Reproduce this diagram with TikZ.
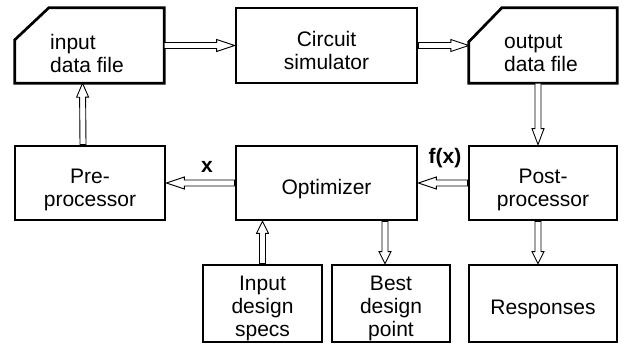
\documentclass[tikz,border=0pt]{standalone}
\usepackage{fontspec}
\setmainfont{Liberation Sans}
\usetikzlibrary{calc}
\begin{document}
\begin{tikzpicture}[x=1pt,y=-1pt,
  txt/.style={font=\fontsize{21}{23}\selectfont, inner sep=0pt},
  box/.style={draw, line width=2.7pt, inner sep=0pt, minimum width=#1, minimum height=75pt},
  cutbox/.style={draw=none, inner sep=0pt, minimum width=#1, minimum height=75pt},
  boxline/.style={draw, line width=2.7pt},
  lbl/.style={font=\fontsize{21}{23}\selectfont\bfseries, inner sep=0pt},
  barrow/.style={draw, line width=0.9pt, fill=white, to path={
    let \p1=(\tikztostart), \p2=(\tikztotarget), \p3=($(\p2)!#1!(\p1)$) in
    ($(\p1)!3pt!90:(\p2)$) -- ($(\p3)!3pt!90:(\p2)$) -- ($(\p3)!6pt!90:(\p2)$) -- (\p2)
    -- ($(\p3)!6pt!-90:(\p2)$) -- ($(\p3)!3pt!-90:(\p2)$) -- ($(\p1)!3pt!-90:(\p2)$) -- cycle}},
  barrow/.default=18pt]
\useasboundingbox (0,0) rectangle (626,345);

% top row
\node[cutbox=149pt] (in) at (89.5,45.5) {};
\draw[boxline] (in.south west) -- ([yshift=-32pt]in.north west) -- ([xshift=34pt]in.north west)
  -- (in.north east) -- (in.south east) -- cycle;
\node[txt, anchor=west, align=left] (intxt) at (50,53) {input\\data file};

\node[box=181pt] (sim) at (326.5,45.5) {};
\node[txt, align=center] (simtxt) at ([yshift=-5pt]sim.center) {Circuit\\simulator};

\node[cutbox=148pt] (out) at (543,45.5) {};
\draw[boxline] (out.south west) -- ([yshift=-34pt]out.north west) -- ([xshift=33pt]out.north west)
  -- (out.north east) -- (out.south east) -- cycle;
\node[txt, anchor=west, align=left] (outtxt) at (504,53) {output\\data file};

% middle row
\node[box=150pt, minimum height=74pt] (pre) at (90,183) {};
\node[txt, align=center] (pretxt) at ([yshift=-6.5pt]pre.center) {Pre-\\processor};
\node[box=181pt, minimum height=74pt] (opt) at (326.5,183) {};
\node[txt, align=center] (opttxt) at ([yshift=-6pt]opt.center) {Optimizer};
\node[box=148pt, minimum height=74pt] (post) at (543,183) {};
\node[txt, align=center] (posttxt) at ([yshift=-6.5pt]post.center) {Post-\\processor};

% bottom row
\node[box=119pt, minimum height=77pt] (specs) at (262.5,303.5) {};
\node[txt, align=center] (specstxt) at ([yshift=-5pt]specs.center) {Input\\design\\specs};
\node[box=118pt, minimum height=77pt] (best) at (391,303.5) {};
\node[txt, align=center] (besttxt) at ([yshift=-4.5pt]best.center) {Best\\design\\point};
\node[box=148pt, minimum height=77pt] (resp) at (543,303.5) {};
\node[txt, align=center] (resptxt) at ([yshift=-6pt]resp.center) {Responses};

% labels
\node[lbl] (xl) at (207,167) {x};
\node[lbl] (fxl) at (445,158) {f(x)};

% helper coordinates
\coordinate (ob) at ([xshift=-6pt]best.north |- opt.south);
\coordinate (bt) at ([xshift=-6pt]best.north);
\coordinate (st) at (specs.north |- opt.south);

% arrows
\draw[barrow] (in.east) to (sim.west);
\draw[barrow] (sim.east) to (out.west);
\draw[barrow=16pt] ([xshift=-5pt]out.south) to ([xshift=-5pt]post.north);
\draw[barrow] (post.west) to (opt.east);
\draw[barrow] (opt.west) to (pre.east);
\draw[barrow=14pt] ([xshift=-7pt]pre.north) to ([xshift=-7pt]in.south);
\draw[barrow=12pt] (specs.north) to (st);
\draw[barrow=12pt] (ob) to (bt);
\draw[barrow=12pt] ([xshift=-5pt]post.south) to ([xshift=-5pt]resp.north);
\end{tikzpicture}
\end{document}
